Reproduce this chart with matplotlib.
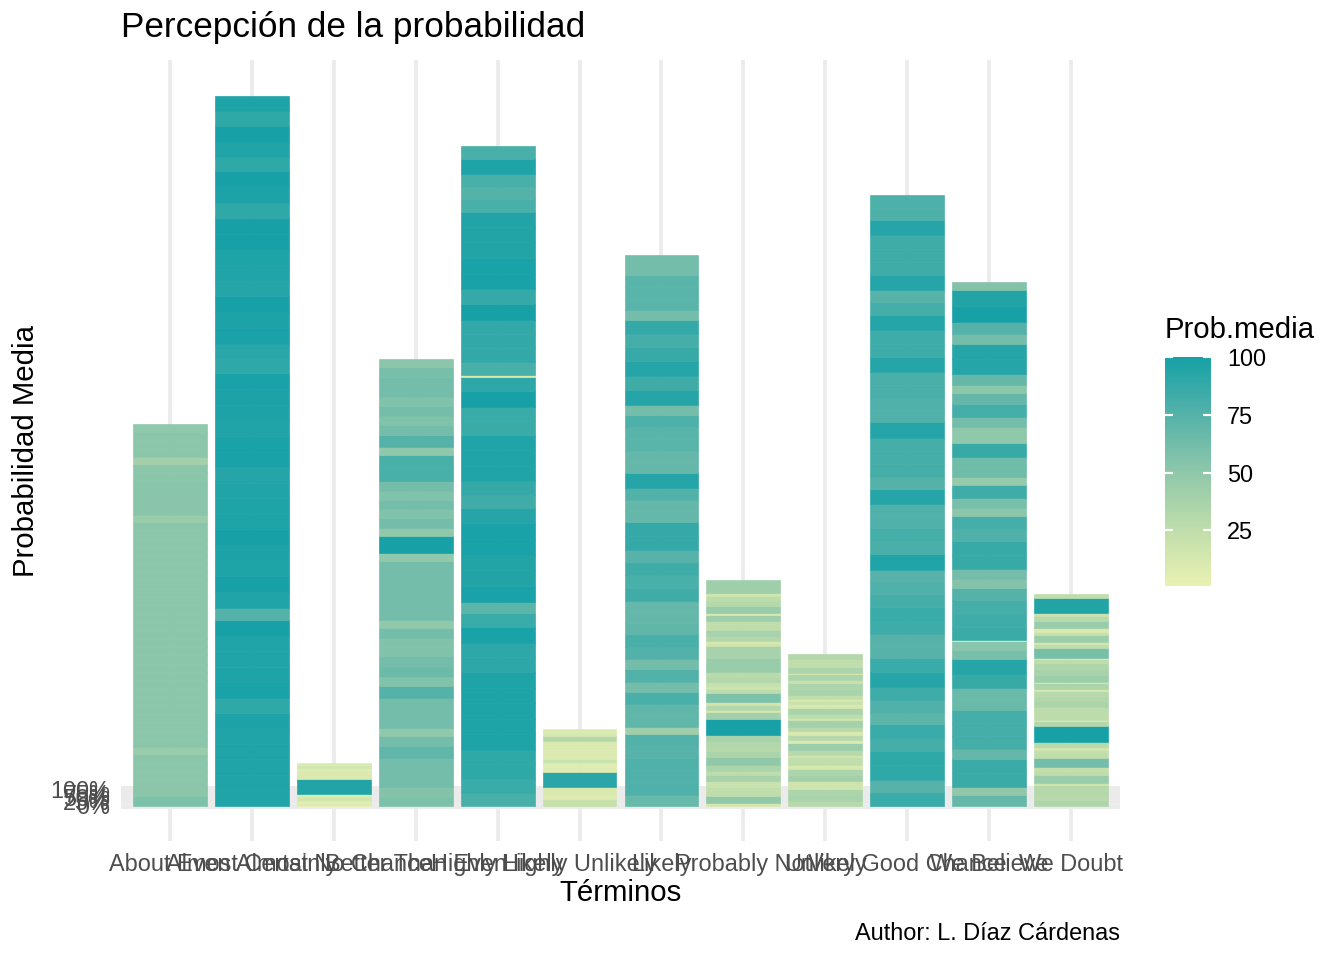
import numpy as np
import matplotlib
matplotlib.use("Agg")
import matplotlib.pyplot as plt
from matplotlib.colors import LinearSegmentedColormap, Normalize
from matplotlib.cm import ScalarMappable

plt.rcParams['font.family'] = ['Liberation Sans', 'DejaVu Sans']

terms = ["About Even", "Almost Certainly", "Almost No Chance", "Better Than Even",
         "Highly Likely", "Highly Unlikely", "Likely", "Probably Not", "Unlikely",
         "Very Good Chance", "We Believe", "We Doubt"]

# individual responses (0-100), listed in stacking order from top to bottom
about_even = [50, 52, 52, 52, 40, 52, 52, 53, 53, 53, 53, 45,
              52, 52, 52, 52, 52, 52, 52, 52, 52, 52, 52, 52, 52, 52, 52, 52, 52,
              52, 52, 52, 52, 52, 52, 52, 52, 52, 52,
              45, 52, 52, 52, 52, 52, 58]
almost_certainly = [97, 90, 100, 96, 90, 100, 98, 90, 100, 100, 97, 96, 94, 100, 98, 99,
                    93, 90, 99, 98, 98, 96, 99, 99, 94, 96, 97, 97, 100, 98, 97, 100, 96,
                    75, 100, 96, 96, 97, 99, 90, 98, 96, 96, 96, 96, 96]
almost_no_chance = [10, 5, 15, 10, 5, 10, 5, 10, 10, 10, 10, 95, 5, 10, 5, 15, 10, 5, 5, 5,
                    10, 1]
better_than_even = [52, 60, 62, 62, 56, 62, 56, 62, 75, 50, 80, 80, 62, 56, 62, 56, 62, 50,
                    100, 50, 62, 62, 62, 62, 62, 62, 50, 62, 56, 56, 62, 65, 5, 56, 75, 62,
                    62, 62, 50, 62, 70, 62, 62, 62, 55, 58]
highly_likely = [80, 97, 80, 75, 80, 95, 95, 95, 99, 99, 88, 100, 89, 89, 89, 80, 8, 91, 100,
                 86, 85, 96, 96, 96, 88, 83, 94, 99, 99, 95, 95, 99, 72, 86, 99, 91, 91, 97,
                 97, 97, 97, 97, 90, 90, 86, 80]
highly_unlikely = [10, 9, 12, 13, 31, 10, 9, 10, 9, 10, 9, 10, 9, 10, 9, 9, 8, 21,
                   8, 7, 8, 7, 8, 7, 8, 7, 92, 10, 11, 10, 11, 8, 7, 9, 8, 21, 21]
likely = [62, 62, 73, 73, 73, 62, 88, 81, 87, 94, 83, 94, 62, 78, 73, 73, 68, 68, 94, 76,
          68, 68, 88, 88, 74, 83, 80, 83, 68, 68, 70, 80, 76, 62, 76, 62, 80, 70, 70, 42,
          76, 74, 77, 77, 77, 67]
probably_not = [42, 42, 18, 27, 31, 45, 11, 42, 25, 26, 38, 33, 11, 18, 38, 38, 45, 45, 29,
                33, 22, 18, 27, 58, 18, 31, 13, 40, 100, 38, 33, 31, 36, 49, 36, 27, 38,
                20, 20, 25, 26, 49, 13]
unlikely = [32, 25, 25, 35, 10, 35, 20, 35, 37, 25, 12, 20, 12, 13, 37, 27, 15, 39, 30, 10,
            10, 30, 10, 10, 44, 30, 15, 25, 25, 12, 13, 35, 40, 17, 18, 15, 35, 37, 30]
very_good_chance = [78, 78, 94, 83, 83, 83, 94, 74, 81, 94, 84, 84, 94, 79, 79, 77, 77, 94,
                    81, 81, 81, 75, 94, 77, 77, 81, 79, 96, 74, 77, 81, 86, 84, 74, 74, 86,
                    94, 84, 77, 72, 86, 81, 90, 90, 74, 86]
we_believe = [55, 95, 100, 75, 62, 94, 94, 68, 51, 68, 81, 62, 50, 50, 87, 64, 64, 47, 83,
              60, 51, 81, 77, 87, 87, 62, 55, 75, 81, 83, 85, 6, 53, 60, 94, 87, 66, 66, 81,
              81, 81, 68, 85, 85, 49, 68]
we_doubt = [26, 95, 20, 30, 45, 11, 10, 21, 43, 13, 26, 60, 8, 26, 34, 38, 43, 10, 36, 13,
            30, 32, 36, 27, 27, 27, 8, 32, 100, 30, 15, 23, 26, 62, 23, 26, 45, 17, 31, 31,
            30, 34]

responses = [about_even, almost_certainly, almost_no_chance, better_than_even,
             highly_likely, highly_unlikely, likely, probably_not, unlikely,
             very_good_chance, we_believe, we_doubt]

y_breaks = [0, 0.25, 0.5, 0.75, 1.0]
y_labels = ["0%", "25%", "50%", "75%", "100%"]
legend_breaks = [25, 50, 75, 100]

W, H = 1344, 960
fig = plt.figure(figsize=(7, 5), dpi=192)

cmap = LinearSegmentedColormap.from_list(
    "g", [(0, "#e9f1b2"), (0.25, "#bfddab"), (0.5, "#8ec7aa"), (0.75, "#54b2a9"), (1, "#17a1a7")])
allv = [v for r in responses for v in r]
norm = Normalize(vmin=min(allv), vmax=max(allv))

px_l, px_r, px_t, px_b = 121, 1120, 60, 841
ax = fig.add_axes([px_l / W, 1 - px_b / H, (px_r - px_l) / W, (px_b - px_t) / H])

totals = []
for i, vals in enumerate(responses):
    x = i + 1
    stack = list(reversed(vals))
    h = np.array(stack) / 100.0
    bottoms = np.concatenate([[0], np.cumsum(h)[:-1]])
    cols = [cmap(norm(v)) for v in stack]
    ax.bar([x] * len(h), h, bottom=bottoms, width=0.9, color=cols,
           edgecolor=cols, linewidth=0.25, zorder=3)
    totals.append(h.sum())

ymax = max(totals)
ax.set_ylim(-0.05 * ymax, 1.05 * ymax)
ax.set_xlim(0.4, len(terms) + 0.6)

ax.set_xticks(np.arange(1, len(terms) + 1))
ax.set_xticklabels(terms)
ax.set_yticks(y_breaks)
ax.set_yticklabels(y_labels)
ax.set_yticks([-0.125, 0.125, 0.375, 0.625, 0.875, 1.125], minor=True)

grid_col = "#ebebeb"
ax.grid(True, which="major", axis="both", color=grid_col, linewidth=1.42, zorder=0)
ax.grid(True, which="minor", axis="y", color=grid_col, linewidth=0.71, zorder=0)
ax.set_axisbelow(True)
for s in ax.spines.values():
    s.set_visible(False)
ax.tick_params(axis="both", which="both", length=0, labelsize=8.8, labelcolor="#4d4d4d")
ax.tick_params(axis="x", pad=4.5)
ax.tick_params(axis="y", pad=4)

fig.text(px_l / W, 1 - 28 / H, "Percepción de la probabilidad", fontsize=13.2,
         ha="left", va="center", color="black")
fig.text(26 / W, 1 - 451 / H, "Probabilidad Media", fontsize=11, rotation=90,
         ha="center", va="center", color="black")
fig.text((px_l + px_r) / 2 / W, 1 - 893 / H, "Términos", fontsize=11,
         ha="center", va="center", color="black")
fig.text(px_r / W, 1 - 933 / H, "Author: L. Díaz Cárdenas", fontsize=8.8,
         ha="right", va="center", color="black")

# colour legend
cax = fig.add_axes([1165 / W, 1 - 586 / H, 46 / W, 229 / H])
cb = fig.colorbar(ScalarMappable(norm=norm, cmap=cmap), cax=cax)
cb.outline.set_visible(False)
cb.set_ticks(legend_breaks)
cb.set_ticklabels([str(b) for b in legend_breaks])
cax.tick_params(axis="y", which="major", direction="in", length=3, width=0.8,
                color="white", left=True, right=True, labelleft=False,
                labelright=True, labelsize=8.8, labelcolor="black", pad=6)
cax.minorticks_off()
fig.text(1165 / W, 1 - 330 / H, "Prob.media", fontsize=11, ha="left", va="center",
         color="black")

fig.savefig("out.png", dpi=192)
